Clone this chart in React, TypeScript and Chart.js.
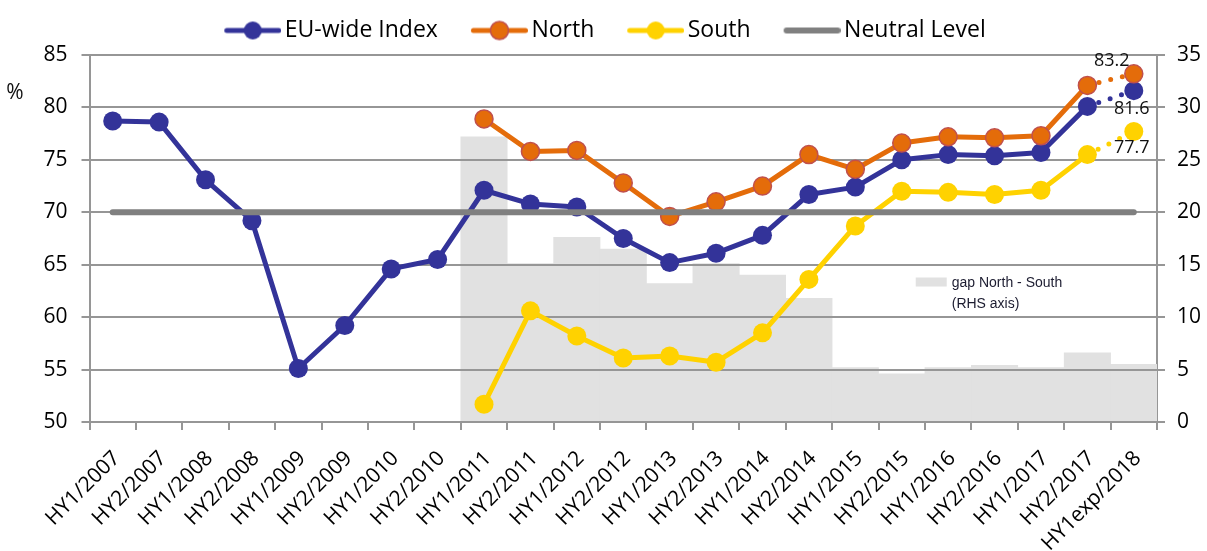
import React, { useEffect, useRef } from 'react';
import { Chart, registerables } from 'chart.js';

Chart.register(...registerables);

const categories = [
  'HY1/2007', 'HY2/2007', 'HY1/2008', 'HY2/2008', 'HY1/2009', 'HY2/2009',
  'HY1/2010', 'HY2/2010', 'HY1/2011', 'HY2/2011', 'HY1/2012', 'HY2/2012',
  'HY1/2013', 'HY2/2013', 'HY1/2014', 'HY2/2014', 'HY1/2015', 'HY2/2015',
  'HY1/2016', 'HY2/2016', 'HY1/2017', 'HY2/2017', 'HY1exp/2018',
];

const euIndex = [78.7, 78.6, 73.1, 69.2, 55.1, 59.2, 64.6, 65.5, 72.1, 70.8, 70.5, 67.5, 65.2, 66.1, 67.8, 71.7, 72.4, 75.0, 75.5, 75.4, 75.7, 80.1, 81.6];
const north = [null, null, null, null, null, null, null, null, 78.9, 75.8, 75.9, 72.8, 69.6, 71.0, 72.5, 75.5, 74.1, 76.6, 77.2, 77.1, 77.3, 82.1, 83.2];
const south = [null, null, null, null, null, null, null, null, 51.7, 60.6, 58.2, 56.1, 56.3, 55.7, 58.5, 63.6, 68.7, 72.0, 71.9, 71.7, 72.1, 75.5, 77.7];
const neutral = [70, 70, 70, 70, 70, 70, 70, 70, 70, 70, 70, 70, 70, 70, 70, 70, 70, 70, 70, 70, 70, 70, 70];
const gapNorthSouth = [null, null, null, null, null, null, null, null, 27.2, 15.1, 17.6, 16.5, 13.2, 15.1, 14.0, 11.8, 5.2, 4.6, 5.2, 5.4, 5.2, 6.6, 5.5];

const seriesNames = ['EU-wide Index', 'North', 'South', 'Neutral Level', 'gap North - South'];

const BLUE = '#333399';
const ORANGE = '#E46C0A';
const ORANGE_BORDER = '#C0504D';
const YELLOW = '#FFD200';
const GREY = '#808080';
const GRID = '#969696';
const BAR = '#E1E1E1';
const FONT = "'Open Sans', 'DejaVu Sans', sans-serif";

const LAST = categories.length - 1;

function makeIcon(color: string, dot: boolean, dotBorder?: string) {
  const c = document.createElement('canvas');
  c.width = 88;
  c.height = 24;
  const g = c.getContext('2d')!;
  g.lineCap = 'round';
  g.strokeStyle = color;
  g.lineWidth = dot ? 5 : 6;
  g.beginPath();
  g.moveTo(dot ? 33.5 : 34, 12);
  g.lineTo(dot ? 85.5 : 85, 12);
  g.stroke();
  if (dot) {
    g.beginPath();
    g.arc(59.5, 12, 9, 0, Math.PI * 2);
    g.fillStyle = color;
    g.fill();
    if (dotBorder) {
      g.lineWidth = 1.5;
      g.strokeStyle = dotBorder;
      g.stroke();
    }
  }
  return c;
}

const dottedLast = (ctx: any) => (ctx.p1DataIndex === LAST ? [0, 12] : undefined);

const extrasPlugin = {
  id: 'extras',
  beforeInit(chart: any) {
    const legend = chart.legend;
    if (legend) {
      const origFit = legend.fit;
      legend.fit = function () {
        origFit.call(this);
        this.height = 46;
      };
    }
  },
  afterLayout(chart: any) {
    const legend = chart.legend;
    if (legend) {
      legend.left -= 10;
      legend.right -= 10;
    }
  },
  afterDatasetDraw(chart: any, args: any) {
    if (args.index !== 4) return;
    const { ctx, chartArea } = chart;
    const y = chart.scales.y;
    ctx.save();
    ctx.strokeStyle = GRID;
    ctx.lineWidth = 2;
    y.ticks.forEach((_t: any, i: number) => {
      const py = Math.round(y.getPixelForTick(i));
      ctx.beginPath();
      ctx.moveTo(chartArea.left, py);
      ctx.lineTo(chartArea.right, py);
      ctx.stroke();
    });
    ctx.restore();
  },
  afterDatasetsDraw(chart: any) {
    const { ctx, chartArea } = chart;
    const x = chart.scales.x;
    const y2 = chart.scales.y2;
    ctx.save();
    // end labels
    ctx.font = `18px ${FONT}`;
    ctx.fillStyle = '#111';
    ctx.textAlign = 'center';
    ctx.textBaseline = 'middle';
    const defs = [
      { ds: 0, values: euIndex, dx: -2, dy: 18 },
      { ds: 1, values: north, dx: -22, dy: -13 },
      { ds: 2, values: south, dx: -2, dy: 16 },
    ];
    defs.forEach((d) => {
      const pt = chart.getDatasetMeta(d.ds).data[LAST];
      const v = d.values[LAST] as number;
      ctx.fillText(v.toFixed(1), pt.x + d.dx, pt.y + d.dy);
    });
    // gap legend inside plot
    const sx = x.getPixelForValue(17) + 14;
    const sy = y2.getPixelForValue(13.35);
    ctx.fillStyle = BAR;
    ctx.fillRect(sx, sy - 4.5, 31, 9);
    ctx.font = `14px 'Liberation Sans', Arial, sans-serif`;
    ctx.fillStyle = '#1c1c30';
    ctx.textAlign = 'left';
    ctx.fillText('gap North - South', sx + 36, sy + 1);
    ctx.fillText('(RHS axis)', sx + 36, sy + 22);
    // % label
    ctx.font = `21px ${FONT}`;
    ctx.fillStyle = '#111';
    ctx.textAlign = 'center';
    ctx.fillText('%', 15, chartArea.top + 38);
    ctx.restore();
  },
};

export default function App() {
  const ref = useRef<HTMLCanvasElement | null>(null);

  useEffect(() => {
    document.body.style.margin = '0';
    if (!ref.current) return;
    const icons = [
      makeIcon(BLUE, true),
      makeIcon(ORANGE, true, ORANGE_BORDER),
      makeIcon(YELLOW, true),
      makeIcon(GREY, false),
    ];
    const tickFont = { family: FONT, size: 21 };
    const chart = new Chart(ref.current, {
      type: 'line',
      data: {
        labels: categories,
        datasets: [
          {
            label: seriesNames[0],
            data: euIndex,
            borderColor: BLUE,
            backgroundColor: BLUE,
            borderWidth: 5,
            pointRadius: 9.5,
            pointBackgroundColor: BLUE,
            pointBorderColor: BLUE,
            pointBorderWidth: 0,
            borderCapStyle: 'round',
            borderJoinStyle: 'round',
            segment: { borderDash: dottedLast },
            yAxisID: 'y',
            order: 3,
          },
          {
            label: seriesNames[1],
            data: north,
            borderColor: ORANGE,
            backgroundColor: ORANGE,
            borderWidth: 5,
            pointRadius: 9,
            pointBackgroundColor: ORANGE,
            pointBorderColor: ORANGE_BORDER,
            pointBorderWidth: 1.5,
            borderCapStyle: 'round',
            borderJoinStyle: 'round',
            segment: { borderDash: dottedLast },
            yAxisID: 'y',
            order: 2,
          },
          {
            label: seriesNames[2],
            data: south,
            borderColor: YELLOW,
            backgroundColor: YELLOW,
            borderWidth: 5,
            pointRadius: 9.5,
            pointBackgroundColor: YELLOW,
            pointBorderColor: YELLOW,
            pointBorderWidth: 0,
            borderCapStyle: 'round',
            borderJoinStyle: 'round',
            segment: { borderDash: dottedLast },
            yAxisID: 'y',
            order: 4,
          },
          {
            label: seriesNames[3],
            data: neutral,
            borderColor: GREY,
            backgroundColor: GREY,
            borderWidth: 6,
            pointRadius: 0,
            borderCapStyle: 'round',
            yAxisID: 'y',
            order: 0,
          },
          {
            type: 'bar',
            label: seriesNames[4],
            data: gapNorthSouth,
            backgroundColor: BAR,
            borderWidth: 0,
            barPercentage: 1,
            categoryPercentage: 1,
            yAxisID: 'y2',
            order: 10,
          } as any,
        ],
      },
      options: {
        responsive: false,
        animation: false,
        layout: { padding: { top: 9, left: 0, right: 0, bottom: 0 } },
        plugins: {
          tooltip: { enabled: false },
          legend: {
            position: 'top',
            labels: {
              usePointStyle: true,
              pointStyleWidth: 72,
              padding: 10,
              color: '#000',
              font: { family: FONT, size: 23 },
              sort: (a: any, b: any) => a.datasetIndex - b.datasetIndex,
              filter: (item: any) => item.datasetIndex !== 4,
              generateLabels: (ch: any) => {
                const items = (Chart.defaults.plugins.legend.labels as any).generateLabels(ch);
                return items.map((it: any) => ({ ...it, pointStyle: icons[it.datasetIndex] || it.pointStyle }));
              },
            },
          },
        },
        scales: {
          x: {
            type: 'category',
            offset: true,
            grid: {
              offset: true,
              drawOnChartArea: false,
              drawTicks: true,
              tickLength: 8,
              color: GRID,
              lineWidth: 2,
            },
            border: { color: GRID, width: 2 },
            ticks: {
              autoSkip: false,
              minRotation: 45,
              maxRotation: 45,
              padding: 16,
              labelOffset: 4,
              color: '#000',
              font: tickFont,
            },
            afterFit: (s: any) => {
              s.height = 129;
            },
          },
          y: {
            position: 'left',
            min: 50,
            max: 85,
            ticks: { stepSize: 5, padding: 14, color: '#000', font: tickFont },
            grid: { color: GRID, lineWidth: 2, tickLength: 8, drawTicks: true },
            border: { color: GRID, width: 2 },
            afterFit: (s: any) => {
              s.width = 89.5;
            },
          },
          y2: {
            position: 'right',
            min: 0,
            max: 35,
            ticks: { stepSize: 5, padding: 12, color: '#000', font: tickFont },
            grid: { drawOnChartArea: false, color: GRID, lineWidth: 2, tickLength: 8, drawTicks: true },
            border: { color: GRID, width: 2 },
            afterFit: (s: any) => {
              s.width = 50;
            },
          },
        },
      },
      plugins: [extrasPlugin],
    } as any);
    return () => chart.destroy();
  }, []);

  return (
    <div style={{ width: 1207, height: 551 }}>
      <canvas ref={ref} width={1207} height={551} style={{ display: 'block' }} />
    </div>
  );
}
